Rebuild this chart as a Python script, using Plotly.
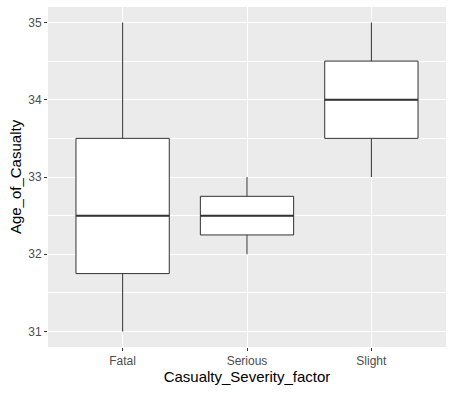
import plotly.graph_objects as go

categories = ["Fatal", "Serious", "Slight"]
lower_whisker = [31, 32, 33]
q1_vals = [31.75, 32.25, 33.5]
median_vals = [32.5, 32.5, 34]
q3_vals = [33.5, 32.75, 34.5]
upper_whisker = [35, 33, 35]
y_ticks = [31, 32, 33, 34, 35]

fig = go.Figure()
fig.add_trace(go.Box(
    x=categories, q1=q1_vals, median=median_vals, q3=q3_vals,
    lowerfence=lower_whisker, upperfence=upper_whisker,
    fillcolor="white", line=dict(color="#333333", width=1),
    whiskerwidth=0, boxpoints=False, showlegend=False, hoverinfo="skip",
))
# thicker median line (ggplot fatten)
fig.add_trace(go.Box(
    x=categories, q1=median_vals, median=median_vals, q3=median_vals,
    lowerfence=median_vals, upperfence=median_vals,
    fillcolor="rgba(0,0,0,0)", line=dict(color="#333333", width=2),
    whiskerwidth=0, boxpoints=False, showlegend=False, hoverinfo="skip",
))

fig.update_layout(
    width=454, height=393,
    margin=dict(l=48, r=8, t=7, b=46),
    paper_bgcolor="white", plot_bgcolor="#EBEBEB",
    boxmode="overlay", boxgap=0.25, boxgroupgap=0,
    font=dict(family="Liberation Sans, Arial, sans-serif"),
    xaxis=dict(
        type="category", range=[-0.6, 2.6], automargin=False,
        showgrid=True, gridcolor="white", gridwidth=1.1,
        ticks="outside", ticklen=3, tickcolor="#333333",
        tickfont=dict(size=12, color="#4D4D4D"),
        title=dict(text="Casualty_Severity_factor", font=dict(size=15, color="black"), standoff=2),
        zeroline=False, showline=False,
    ),
    yaxis=dict(
        range=[30.8, 35.2], tickvals=y_ticks, automargin=False,
        showgrid=True, gridcolor="white", gridwidth=1.1,
        minor=dict(dtick=0.5, tick0=30.5, showgrid=True, gridcolor="white", gridwidth=0.5),
        ticks="outside", ticklen=3, tickcolor="#333333",
        tickfont=dict(size=12, color="#4D4D4D"),
        title=dict(text="Age_of_Casualty", font=dict(size=15, color="black"), standoff=2),
        zeroline=False, showline=False,
    ),
)
fig.write_html("out.html", config={"displayModeBar": False},
               post_script="document.body.style.margin='0';")
